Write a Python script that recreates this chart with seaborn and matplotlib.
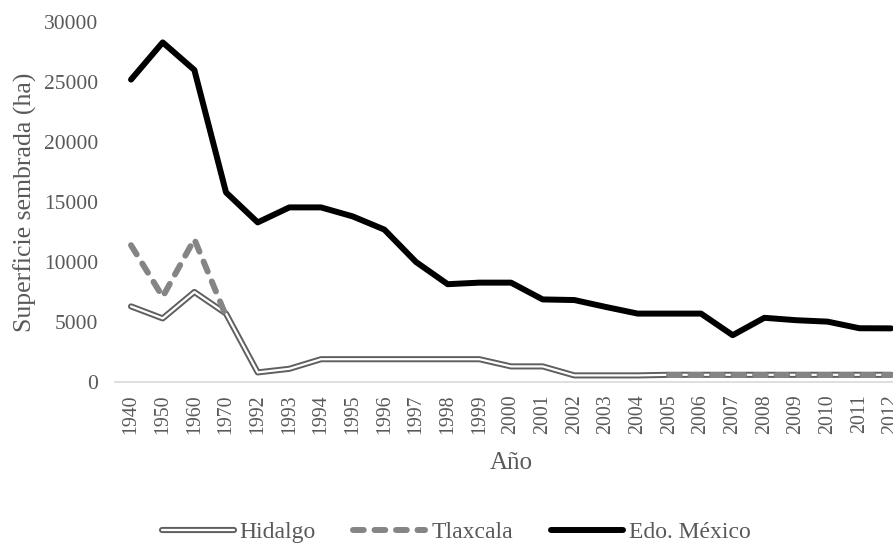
import numpy as np
import pandas as pd
import matplotlib
matplotlib.use('Agg')
import matplotlib.pyplot as plt
import matplotlib.patheffects as pe
import seaborn as sns

# data
years = ['1940', '1950', '1960', '1970', '1992', '1993', '1994', '1995', '1996',
         '1997', '1998', '1999', '2000', '2001', '2002', '2003', '2004', '2005',
         '2006', '2007', '2008', '2009', '2010', '2011', '2012']

hidalgo = [6300, 5300, 7500, 5700, 800, 1100, 1900, 1900, 1900,
           1900, 1900, 1900, 1300, 1300, 550, 550, 550, 600,
           600, 600, 600, 600, 600, 600, 600]

tlaxcala = [11400, 7100, 11900, 5500, np.nan, np.nan, np.nan, np.nan, np.nan,
            np.nan, np.nan, np.nan, np.nan, np.nan, np.nan, np.nan, np.nan, 600,
            600, 600, 600, 600, 600, 600, 600]

edo_mexico = [25200, 28300, 26000, 15800, 13300, 14550, 14550, 13800, 12700,
              10000, 8150, 8280, 8280, 6880, 6830, 6250, 5700, 5700,
              5700, 3900, 5350, 5150, 5030, 4480, 4470]

sns.set_theme(style='white')
plt.rcParams['font.family'] = ['Liberation Serif', 'DejaVu Serif']
text_col = '#595959'

df = pd.DataFrame({'pos': np.arange(len(years)), 'year': years,
                   'Hidalgo': hidalgo, 'Tlaxcala': tlaxcala, 'Edo. México': edo_mexico})

# split Tlaxcala where data is missing so the line breaks
tl = df[['pos', 'Tlaxcala']].copy()
tl['seg'] = tl['Tlaxcala'].isna().cumsum()
tl = tl.dropna()

fig = plt.figure(figsize=(8.93, 5.43), dpi=100)
ax = fig.add_axes([0.129, 0.2965, 0.8865, 0.663])

sns.lineplot(data=df, x='pos', y='Hidalgo', ax=ax, color='white', lw=1.6,
             label='Hidalgo', solid_capstyle='round',
             path_effects=[pe.Stroke(linewidth=4.4, foreground='#5f5f5f'), pe.Normal()])
sns.lineplot(data=tl, x='pos', y='Tlaxcala', units='seg', estimator=None, ax=ax,
             color='#858585', lw=4.3, label='Tlaxcala')
for l in ax.lines[1:]:
    l.set_dashes((1.8, 1.8))
    l.set_dash_capstyle('round')
sns.lineplot(data=df, x='pos', y='Edo. México', ax=ax, color='black', lw=4.3,
             label='Edo. México', solid_capstyle='round')

ax.set_xlim(-0.5, len(years) - 0.5)
ax.set_ylim(0, 30000)
ax.set_yticks(range(0, 30001, 5000))
ax.set_xticks(df['pos'])
ax.set_xticklabels(years, rotation=90)
ax.tick_params(axis='x', labelsize=14.3, colors=text_col, length=0, pad=9)
ax.tick_params(axis='y', labelsize=15.5, colors=text_col, length=0, pad=12.5)

for s in ['top', 'right', 'left']:
    ax.spines[s].set_visible(False)
ax.spines['bottom'].set_color('#d9d9d9')
ax.spines['bottom'].set_linewidth(1.2)

ax.set_xlabel('Año', fontsize=18, color=text_col)
ax.set_ylabel('Superficie sembrada (ha)', fontsize=18.5, color=text_col)
ax.xaxis.set_label_coords(511 / 791.6 - 115 / 791.6 + 0.0, -0.195)
ax.yaxis.set_label_coords(-0.099, 0.5)

# one legend entry per series
handles, labels = ax.get_legend_handles_labels()
seen = {}
for h, lab in zip(handles, labels):
    seen.setdefault(lab, h)
leg = ax.legend(list(seen.values()), list(seen.keys()),
                loc='center', bbox_to_anchor=(456 / 893, 1 - 532 / 543),
                bbox_transform=fig.transFigure, ncol=3, frameon=False,
                fontsize=17, handlelength=3.05, handletextpad=0.25, columnspacing=1.6)
for t in leg.get_texts():
    t.set_color(text_col)

fig.savefig('out.png', dpi=100)
